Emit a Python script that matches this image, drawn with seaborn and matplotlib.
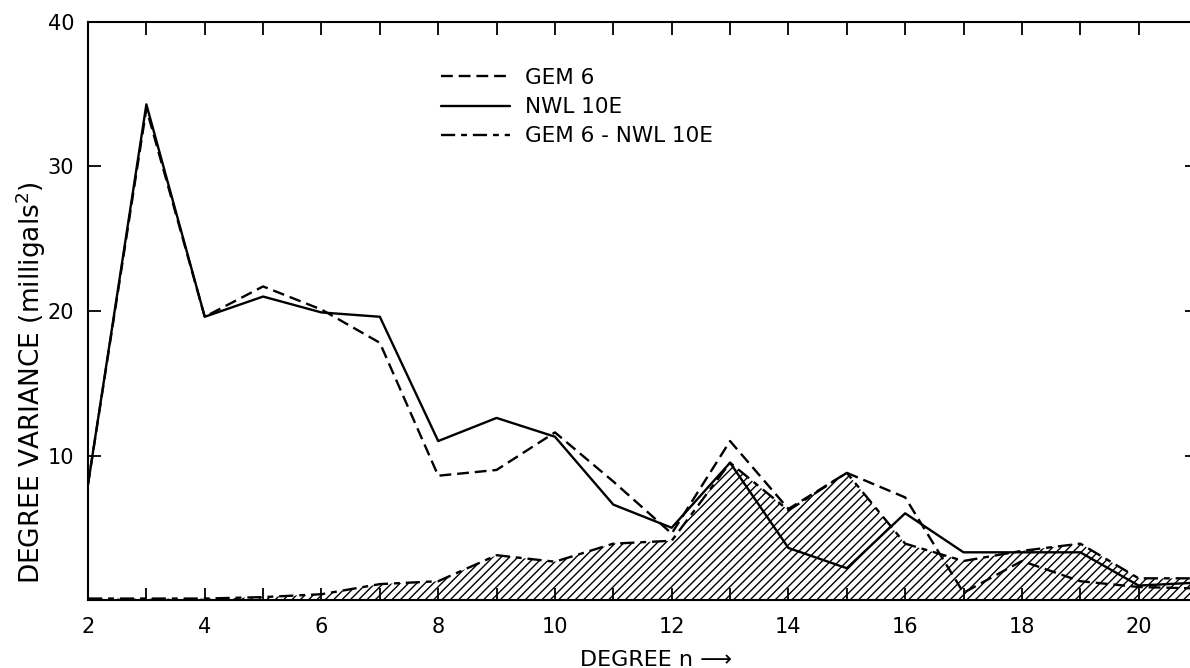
import matplotlib
matplotlib.use("Agg")
import matplotlib.pyplot as plt
import seaborn as sns
import pandas as pd
import numpy as np

# ---- data ----
degree = [2, 3, 4, 5, 6, 7, 8, 9, 10, 11, 12, 13, 14, 15, 16, 17, 18, 19, 20, 21]
gem6 = [8.0, 34.0, 19.6, 21.7, 20.1, 17.8, 8.6, 9.0, 11.6, 8.2, 4.6, 11.0, 6.3, 8.8, 7.1, 0.5, 2.7, 1.3, 0.9, 0.8]
nwl10e = [8.0, 34.3, 19.6, 21.0, 19.9, 19.6, 11.0, 12.6, 11.3, 6.6, 5.0, 9.5, 3.6, 2.2, 6.0, 3.3, 3.3, 3.3, 1.0, 1.2]
diff = [0.1, 0.1, 0.1, 0.2, 0.4, 1.1, 1.3, 3.1, 2.65, 3.9, 4.1, 9.5, 6.2, 8.8, 3.9, 2.7, 3.4, 3.9, 1.5, 1.5]
labels = ["GEM 6", "NWL 10E", "GEM 6 - NWL 10E"]
x_ticks = [2, 4, 6, 8, 10, 12, 14, 16, 18, 20]
y_ticks = [10, 20, 30, 40]

sns.set_theme(style="white")
plt.rcParams["font.family"] = ["DejaVu Sans"]
plt.rcParams["hatch.linewidth"] = 1.0

W, H = 1190, 668
fig = plt.figure(figsize=(W / 100, H / 100), dpi=100)
ax = fig.add_axes([88 / W, 68 / H, 1109 / W, 578 / H])

df = pd.DataFrame({"n": degree, "gem": gem6, "nwl": nwl10e, "diff": diff})

ax.fill_between(df["n"], 0, df["diff"], facecolor="none", edgecolor="black",
                hatch="////", linewidth=0)
sns.lineplot(data=df, x="n", y="gem", ax=ax, color="black", linewidth=1.7,
             linestyle=(0, (5, 2.5)), label=labels[0])
sns.lineplot(data=df, x="n", y="nwl", ax=ax, color="black", linewidth=1.7,
             linestyle="-", label=labels[1])
sns.lineplot(data=df, x="n", y="diff", ax=ax, color="black", linewidth=1.7,
             linestyle=(0, (6, 2.5, 2.5, 2.5)), label=labels[2])

ax.set_xlim(2, 21)
ax.set_ylim(0, 40)
ax.set_xticks(x_ticks)
ax.set_xticklabels([str(t) for t in x_ticks])
ax.set_xticks([t for t in degree if t % 2 == 1], minor=True)
ax.set_yticks(y_ticks)
ax.set_yticklabels([str(t) for t in y_ticks])
ax.tick_params(axis="both", which="both", direction="in", length=9, width=1.3,
               top=True, right=True, bottom=True, left=True, colors="black",
               labelsize=15)
ax.tick_params(axis="x", pad=12)
ax.tick_params(axis="y", pad=10)
ax.set_xlabel("")
ax.set_ylabel("")
for s in ax.spines.values():
    s.set_color("black")
    s.set_linewidth(1.5)

fig.text(31 / W, 1 - 383 / H, "DEGREE VARIANCE (milligals$^2$)", rotation=90,
         ha="center", va="center", fontsize=19, color="black")
fig.text(580 / W, 1 - 666 / H, "DEGREE n \u27f6", ha="left", va="baseline",
         fontsize=16, color="black")

leg = ax.legend(loc="upper left", bbox_to_anchor=(441 / W, 1 - 68 / H),
                bbox_transform=fig.transFigure, frameon=False, fontsize=15.5,
                handlelength=3.2, handletextpad=0.7, labelspacing=0.42,
                borderpad=0, borderaxespad=0)
for t in leg.get_texts():
    t.set_color("black")

fig.savefig("out.png", dpi=100)
